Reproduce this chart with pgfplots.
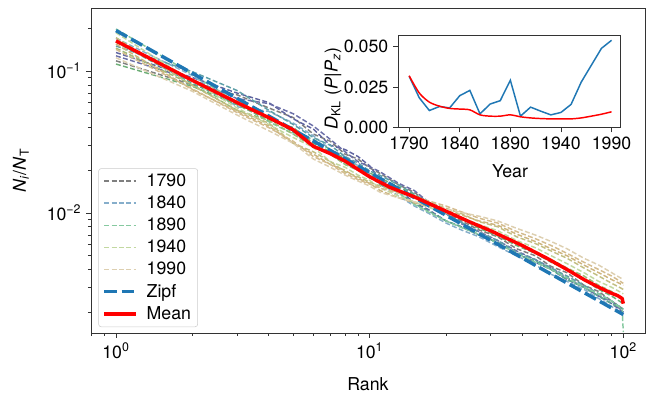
\documentclass[border=0pt]{standalone}
\usepackage{fontspec}
\setmainfont{TeX Gyre Heros}
\usepackage{pgfplots}
\pgfplotsset{compat=1.18}
\definecolor{zipfblue}{HTML}{1F77B4}
\definecolor{cA}{HTML}{7F7F7F}
\definecolor{cA2}{HTML}{5F64A0}
\definecolor{cB}{HTML}{6B6FA8}
\definecolor{cC}{HTML}{86AECB}
\definecolor{cD}{HTML}{5E9FA8}
\definecolor{cD2}{HTML}{5FA890}
\definecolor{cE}{HTML}{86C9A0}
\definecolor{cF}{HTML}{6FAF78}
\definecolor{cF2}{HTML}{9DBB78}
\definecolor{cG}{HTML}{C2D8A0}
\definecolor{cH}{HTML}{C2BE82}
\definecolor{cH2}{HTML}{CDB57F}
\definecolor{cI}{HTML}{D4BC8E}
\definecolor{cJ}{HTML}{DDCFB0}
\newcommand{\fsz}{\fontsize{13.3}{15.5}\selectfont}
\begin{document}
\begin{tikzpicture}
\path[use as bounding box] (-68.25pt,-46.5pt) rectangle (416.25pt,249.75pt);
\begin{axis}[
  at={(0pt,0pt)}, anchor=south west,
  scale only axis, width=415.5pt, height=243.75pt,
  xmode=log, ymode=log,
  xmin=0.797, xmax=121.8, ymin=0.001429, ymax=0.278,
  xtick={1,10,100},
  xticklabels={10\textsuperscript{0},10\textsuperscript{1},10\textsuperscript{2}},
  ytick={0.01,0.1},
  yticklabels={10\textsuperscript{−2},10\textsuperscript{−1}},
  minor xtick={0.8,0.9,2,3,4,5,6,7,8,9,20,30,40,50,60,70,80,90},
  minor ytick={0.002,0.003,0.004,0.005,0.006,0.007,0.008,0.009,0.02,0.03,0.04,0.05,0.06,0.07,0.08,0.09,0.2},
  tick align=outside, tick pos=left,
  major tick length=3.75pt, minor tick length=2.25pt,
  axis line style={black!80, line width=0.6pt},
  major tick style={black!80, line width=0.6pt},
  minor tick style={black!80, line width=0.45pt},
  tick label style={font=\fsz},
  label style={font=\fsz},
  xlabel={Rank},
  ylabel={\textit{N}\textsubscript{\textit{i}}/\textit{N}\textsubscript{T}},
  xlabel style={at={(axis description cs:0.5,-0.157)}, anchor=center},
  ylabel style={at={(axis description cs:-0.1264,0.5)}, anchor=center, rotate=0},
  legend style={at={(axis description cs:0.0132,0.5068)}, anchor=north west,
    draw=black!20, rounded corners=2pt, fill=white, fill opacity=0.8, text opacity=1,
    font=\fsz, row sep=1.6pt, inner xsep=3pt, inner ysep=2pt,
    /tikz/every odd column/.append style={column sep=4.5pt}},
  legend cell align=left,
  legend image code/.code={\draw[#1] (0pt,0pt) -- (24pt,0pt);},
  every axis plot/.append style={line join=round},
  yr/.style={line width=1.1pt, dash pattern=on 3.7pt off 1.8pt},
]
% year series
\addplot[cA, yr] coordinates {(1,0.118)(2,0.080)(3,0.068)(4,0.055)(5,0.047)(6,0.036)(7,0.032)(8,0.026)(9,0.024)(10,0.0208)(11,0.0190)(13,0.0158)(15,0.0140)(17,0.0118)(20,0.0100)(23,0.0088)(27,0.0076)(32,0.0068)(38,0.0056)(45,0.0050)(52,0.0042)(60,0.0038)(70,0.0031)(80,0.0028)(90,0.0024)(100,0.0021)};
\addlegendentry{1790}
\addplot[cA2, yr, forget plot] coordinates {(1,0.135)(2,0.090)(3,0.070)(4,0.060)(5,0.046)(6,0.039)(7,0.030)(8,0.028)(9,0.025)(10,0.0215)(11,0.0172)(13,0.0146)(15,0.0118)(17,0.0106)(20,0.0088)(23,0.0080)(27,0.0070)(32,0.0062)(38,0.0052)(45,0.0045)(52,0.0040)(60,0.0034)(70,0.0030)(80,0.0026)(90,0.0023)(100,0.0020)};
\addplot[cB, yr, forget plot] coordinates {(1,0.128)(2,0.087)(3,0.064)(4,0.059)(5,0.050)(6,0.041)(7,0.033)(8,0.027)(9,0.023)(10,0.0212)(11,0.0195)(13,0.0162)(15,0.0144)(17,0.0120)(20,0.0099)(23,0.0084)(27,0.0074)(32,0.0064)(38,0.0054)(45,0.0047)(52,0.0041)(60,0.0035)(70,0.0030)(80,0.0026)(90,0.0024)(100,0.0020)};
\addplot[cC, yr] coordinates {(1,0.170)(2,0.093)(3,0.056)(4,0.052)(5,0.043)(6,0.035)(7,0.028)(8,0.025)(9,0.0215)(10,0.0190)(11,0.0160)(13,0.0132)(15,0.0112)(17,0.0100)(20,0.0085)(23,0.0076)(27,0.0068)(32,0.0058)(38,0.0050)(45,0.0043)(52,0.0037)(60,0.0033)(70,0.0029)(80,0.0025)(90,0.0022)(100,0.0019)};
\addlegendentry{1840}
\addplot[cD, yr, forget plot] coordinates {(1,0.150)(2,0.099)(3,0.073)(4,0.053)(5,0.042)(6,0.034)(7,0.030)(8,0.025)(9,0.0225)(10,0.0198)(11,0.0184)(13,0.0158)(15,0.0136)(17,0.0117)(20,0.0098)(23,0.0086)(27,0.0073)(32,0.0064)(38,0.0053)(45,0.0047)(52,0.0041)(60,0.0036)(70,0.0031)(80,0.0027)(90,0.0024)(100,0.0021)};
\addplot[cD2, yr, forget plot] coordinates {(1,0.160)(2,0.082)(3,0.058)(4,0.048)(5,0.037)(6,0.033)(7,0.028)(8,0.024)(9,0.020)(10,0.0185)(11,0.0158)(13,0.0140)(15,0.0116)(17,0.0104)(20,0.0088)(23,0.0080)(27,0.0070)(32,0.0062)(38,0.0051)(45,0.0046)(52,0.0040)(60,0.0034)(70,0.0030)(80,0.0026)(90,0.0023)(100,0.0021)};
\addplot[cE, yr] coordinates {(1,0.198)(2,0.095)(3,0.060)(4,0.044)(5,0.036)(6,0.030)(7,0.026)(8,0.022)(9,0.0200)(10,0.0178)(11,0.0166)(13,0.0138)(15,0.0115)(17,0.0102)(20,0.0088)(23,0.0079)(27,0.0071)(32,0.0061)(38,0.0052)(45,0.0045)(52,0.0040)(60,0.0035)(70,0.0030)(80,0.0027)(90,0.0024)(99,0.0021)(100,0.00145)};
\addlegendentry{1890}
\addplot[cF, yr, forget plot] coordinates {(1,0.112)(2,0.078)(3,0.058)(4,0.045)(5,0.040)(6,0.031)(7,0.027)(8,0.024)(9,0.021)(10,0.0192)(11,0.0176)(13,0.0153)(15,0.0134)(17,0.0120)(20,0.0103)(23,0.0091)(27,0.0078)(32,0.0069)(38,0.0059)(45,0.0052)(52,0.0045)(60,0.0040)(70,0.0034)(80,0.0029)(90,0.0026)(100,0.0023)};
\addplot[cF2, yr, forget plot] coordinates {(1,0.145)(2,0.080)(3,0.053)(4,0.045)(5,0.036)(6,0.029)(7,0.026)(8,0.022)(9,0.020)(10,0.0180)(11,0.0163)(13,0.0146)(15,0.0130)(17,0.0114)(20,0.0103)(23,0.0091)(27,0.0080)(32,0.0071)(38,0.0061)(45,0.0053)(52,0.0047)(60,0.0041)(70,0.0036)(80,0.0031)(90,0.0028)(100,0.0025)};
\addplot[cG, yr] coordinates {(1,0.186)(2,0.085)(3,0.055)(4,0.042)(5,0.034)(6,0.029)(7,0.023)(8,0.021)(9,0.0185)(10,0.0170)(11,0.0150)(13,0.0132)(15,0.0120)(17,0.0110)(20,0.0100)(23,0.0093)(27,0.0083)(32,0.0075)(38,0.0064)(45,0.0057)(52,0.0050)(60,0.0044)(70,0.0038)(80,0.0033)(90,0.0030)(100,0.0027)};
\addlegendentry{1940}
\addplot[cH, yr, forget plot] coordinates {(1,0.172)(2,0.079)(3,0.053)(4,0.043)(5,0.031)(6,0.027)(7,0.023)(8,0.0195)(9,0.018)(10,0.0165)(11,0.0155)(13,0.0140)(15,0.0132)(17,0.0120)(20,0.0108)(23,0.0099)(27,0.0087)(32,0.0080)(38,0.0068)(45,0.0061)(52,0.0054)(60,0.0048)(70,0.0041)(80,0.0036)(90,0.0032)(100,0.0029)};
\addplot[cH2, yr, forget plot] coordinates {(1,0.155)(2,0.074)(3,0.052)(4,0.041)(5,0.031)(6,0.026)(7,0.022)(8,0.020)(9,0.0175)(10,0.0162)(11,0.0144)(13,0.0128)(15,0.0118)(17,0.0112)(20,0.0104)(23,0.0097)(27,0.0088)(32,0.0082)(38,0.0071)(45,0.0063)(52,0.0056)(60,0.0050)(70,0.0043)(80,0.0038)(90,0.0034)(100,0.0031)};
\addplot[cI, yr, forget plot] coordinates {(1,0.142)(2,0.075)(3,0.051)(4,0.040)(5,0.032)(6,0.025)(7,0.022)(8,0.019)(9,0.0172)(10,0.0160)(11,0.0150)(13,0.0138)(15,0.0130)(17,0.0122)(20,0.0112)(23,0.0102)(27,0.0092)(32,0.0085)(38,0.0074)(45,0.0066)(52,0.0059)(60,0.0052)(70,0.0045)(80,0.0040)(90,0.0036)(100,0.0032)};
\addplot[cJ, yr] coordinates {(1,0.124)(2,0.072)(3,0.049)(4,0.038)(5,0.031)(6,0.024)(7,0.021)(8,0.0185)(9,0.0168)(10,0.0155)(11,0.0140)(13,0.0128)(15,0.0120)(17,0.0114)(20,0.0107)(23,0.0101)(27,0.0095)(32,0.0088)(38,0.0078)(45,0.0070)(52,0.0063)(60,0.0056)(70,0.0048)(80,0.0043)(90,0.0038)(100,0.0034)};
\addlegendentry{1990}
% Zipf
\addplot[zipfblue, line width=2.6pt, dash pattern=on 9.5pt off 3.5pt] coordinates {(1,0.1928)(100,0.001928)};
\addlegendentry{Zipf}
% Mean
\addplot[red, line width=2.6pt] coordinates {(1,0.163)(2,0.086)(3,0.060)(4,0.047)(5,0.0385)(6,0.0295)(7,0.0262)(8,0.0232)(10,0.0180)(12,0.0152)(15,0.0130)(20,0.0103)(25,0.0086)(30,0.0075)(40,0.0059)(50,0.0048)(60,0.0040)(70,0.0034)(80,0.0030)(90,0.00272)(95,0.00262)(99,0.00250)(100,0.0023)};
\addlegendentry{Mean}
\end{axis}
\begin{axis}[
  at={(230.25pt,154.3pt)}, anchor=south west,
  scale only axis, width=167pt, height=69.2pt,
  xmin=1779, xmax=1999, ymin=0, ymax=0.0573,
  xtick={1790,1840,1890,1940,1990},
  xticklabels={1790,1840,1890,1940,1990},
  ytick={0,0.025,0.05},
  yticklabels={0.000,0.025,0.050},
  scaled y ticks=false,
  tick align=outside, tick pos=left,
  major tick length=3.75pt,
  axis line style={black!80, line width=0.6pt},
  major tick style={black!80, line width=0.6pt},
  axis background/.style={fill=white},
  tick label style={font=\fsz},
  label style={font=\fsz},
  xlabel={Year},
  ylabel={\textit{D}\textsubscript{KL} (\textit{P}|\textit{P}\textsubscript{\textit{z}})},
  xlabel style={at={(axis description cs:0.503,-0.481)}, anchor=center},
  ylabel style={at={(axis description cs:-0.292,0.42)}, anchor=center, rotate=0},
]
\addplot[zipfblue, line width=1.1pt] coordinates {(1790,0.0317)(1800,0.0183)(1810,0.0104)(1820,0.0129)(1830,0.0120)(1840,0.0196)(1850,0.0229)(1860,0.0083)(1870,0.0144)(1880,0.0165)(1890,0.0292)(1900,0.0069)(1910,0.0125)(1920,0.0100)(1930,0.0077)(1940,0.0092)(1950,0.0142)(1960,0.0280)(1970,0.0385)(1980,0.0490)(1990,0.0540)};
\addplot[red, line width=1.1pt, smooth] coordinates {(1790,0.0320)(1800,0.0213)(1810,0.0156)(1820,0.0131)(1830,0.0117)(1840,0.0113)(1850,0.0108)(1860,0.0077)(1870,0.0069)(1880,0.0069)(1890,0.0077)(1900,0.0065)(1910,0.0058)(1920,0.0054)(1930,0.0052)(1940,0.0052)(1950,0.0052)(1960,0.0058)(1970,0.0069)(1980,0.0081)(1990,0.0096)};
\end{axis}
\end{tikzpicture}
\end{document}
